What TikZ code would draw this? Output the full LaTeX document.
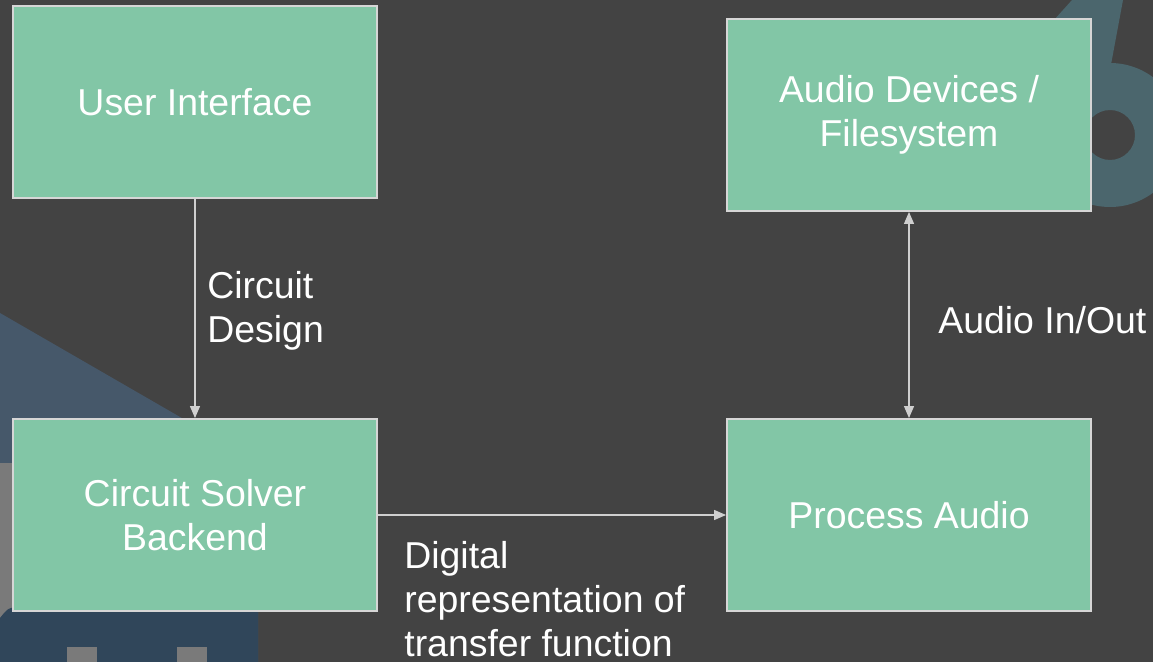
\documentclass[tikz,border=0pt]{standalone}
\usepackage{fontspec}
\setmainfont{Liberation Sans}
\usetikzlibrary{arrows.meta}
\definecolor{slidebg}{HTML}{434343}
\definecolor{boxgreen}{HTML}{82C6A6}
\definecolor{boxedge}{HTML}{D6D6D6}
\definecolor{linegray}{HTML}{CFCFCF}
\definecolor{decoblue}{HTML}{46586A}
\definecolor{decodark}{HTML}{30465A}
\definecolor{decogray}{HTML}{7A7A7A}
\definecolor{decoteal}{HTML}{4B666D}
\tikzset{
  tip/.tip={Triangle[length=0.24cm,width=0.2cm]},
  blockbox/.style={rectangle,fill=boxgreen,draw=boxedge,line width=1.1pt,
    minimum width=7.28cm,minimum height=3.84cm,text=white,align=center,
    font=\fontsize{21.3}{25}\selectfont},
  flowarrow/.style={draw=linegray,line width=0.7pt,-tip},
  notetext/.style={text=white,align=left,inner sep=0pt,anchor=west,
    font=\fontsize{21.3}{25}\selectfont}
}
\begin{document}
\begin{tikzpicture}[x=0.02cm,y=-0.02cm]
  \useasboundingbox (0,0) rectangle (1153,662);
  \fill[slidebg] (0,0) rectangle (1153,662);

  % background shapes
  \fill[decoblue] (0,313) -- (258,462) -- (258,662) -- (0,662) -- cycle;
  \fill[decogray] (0,463) -- (20,463) -- (20,610) -- (0,618) -- cycle;
  \fill[decodark] (0,618) .. controls (8,608) .. (20,606) -- (258,606) -- (258,662) -- (0,662) -- cycle;
  \foreach \xx in {67,177} {
    \fill[decogray] (\xx,647) rectangle ++(30,15);
  }
  \fill[decoteal,even odd rule] (1110,135) circle (72) (1110,135) circle (25);
  \fill[decoteal] (1072,0) -- (1123,0) -- (1110,70) -- (1050,100) -- (1045,30) -- cycle;

  % blocks
  \node[blockbox] (ui) at (195,102) {User Interface};
  \node[blockbox] (solver) at (195,515) {Circuit Solver\\Backend};
  \node[blockbox] (devices) at (909,115) {Audio Devices /\\Filesystem};
  \node[blockbox] (process) at (909,515) {Process Audio};

  % connections
  \draw[flowarrow] (ui) -- (solver);
  \draw[flowarrow] (solver) -- (process);
  \draw[flowarrow,tip-tip] (devices) -- (process);

  \node[notetext] (designlbl) at (207,311) {Circuit\\Design};
  \node[notetext] (iolbl) at (938,320) {Audio In/Out};
  \node[notetext] (tflbl) at (404,599) {Digital\\representation of\\transfer function};
\end{tikzpicture}
\end{document}
